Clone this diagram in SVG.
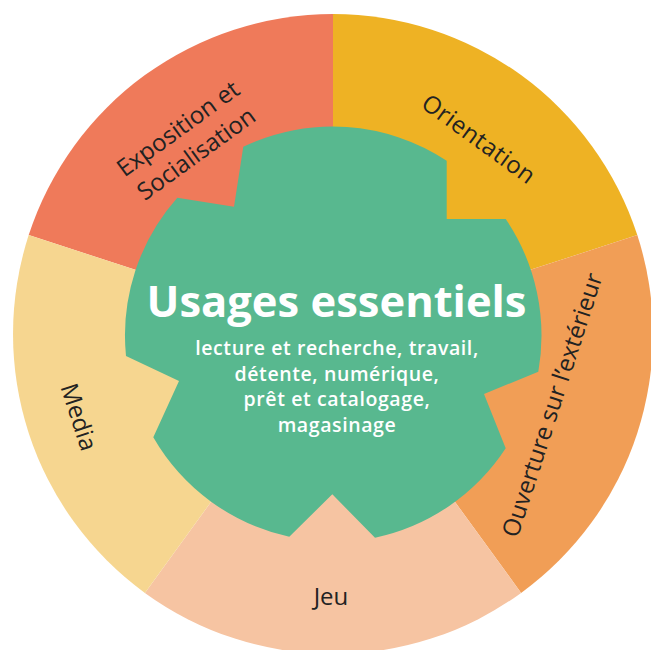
<svg xmlns="http://www.w3.org/2000/svg" width="651" height="650" viewBox="0 0 651 650">
  <style>
    .lbl { font-family: "Open Sans", "Liberation Sans", sans-serif; font-size: 24px; fill: #222222; text-anchor: middle; }
    .title { font-family: "Open Sans", "Liberation Sans", sans-serif; font-size: 43.5px; font-weight: 700; fill: #ffffff; text-anchor: middle; }
    .sub { font-family: "Open Sans", "Liberation Sans", sans-serif; font-size: 19.5px; font-weight: 600; letter-spacing: 0.6px; fill: #ffffff; text-anchor: middle; }
  </style>
  <rect width="651" height="650" fill="#ffffff"/>
  <g id="sector-exposition">
    <path d="M333,334 L28.7,235.1 A320,320 0 0 1 333,14 Z" fill="#EF7A5A"/>
    <g transform="translate(187,141) rotate(-36)">
      <text class="lbl" x="0" y="-7">Exposition et</text>
      <text class="lbl" x="0" y="24">Socialisation</text>
    </g>
  </g>
  <g id="sector-orientation">
    <path d="M333,334 L333,14 A320,320 0 0 1 637.3,235.1 Z" fill="#EEB224"/>
    <text class="lbl" transform="translate(479,139) rotate(36)" x="0" y="8.5" letter-spacing="0.5">Orientation</text>
  </g>
  <g id="sector-ouverture">
    <path d="M333,334 L637.3,235.1 A320,320 0 0 1 521.1,592.9 Z" fill="#F19E56"/>
    <text class="lbl" transform="translate(552,405) rotate(-72)" x="0" y="8.5">Ouverture sur l’extérieur</text>
  </g>
  <g id="sector-jeu">
    <path d="M333,334 L521.1,592.9 A320,320 0 0 1 144.9,592.9 Z" fill="#F6C4A2"/>
    <text class="lbl" x="331" y="605">Jeu</text>
  </g>
  <g id="sector-media">
    <path d="M333,334 L144.9,592.9 A320,320 0 0 1 28.7,235.1 Z" fill="#F6D690"/>
    <text class="lbl" transform="translate(79,417) rotate(72)" x="0" y="8.5">Media</text>
  </g>
  <g id="center">
    <path d="M243.3,146.7 A207.5,207.5 0 0 1 446.7,160.7 L446.7,219 L505.7,219 A207.5,207.5 0 0 1 538.3,371.7 L484,394 L505.7,448.3 A207.5,207.5 0 0 1 375,537.7 L332.3,494.3 L289.3,536.7 A207.5,207.5 0 0 1 153.3,437.3 L179,381 L126,356 A207.5,207.5 0 0 1 177.3,197.7 L234,206.7 Z" fill="#58B88F"/>
    <text class="title" x="336.5" y="317">Usages essentiels</text>
    <text class="sub" x="337" y="355">lecture et recherche, travail,</text>
    <text class="sub" x="337" y="380.5">détente, numérique,</text>
    <text class="sub" x="337" y="406">prêt et catalogage,</text>
    <text class="sub" x="337" y="431.5">magasinage</text>
  </g>
</svg>
